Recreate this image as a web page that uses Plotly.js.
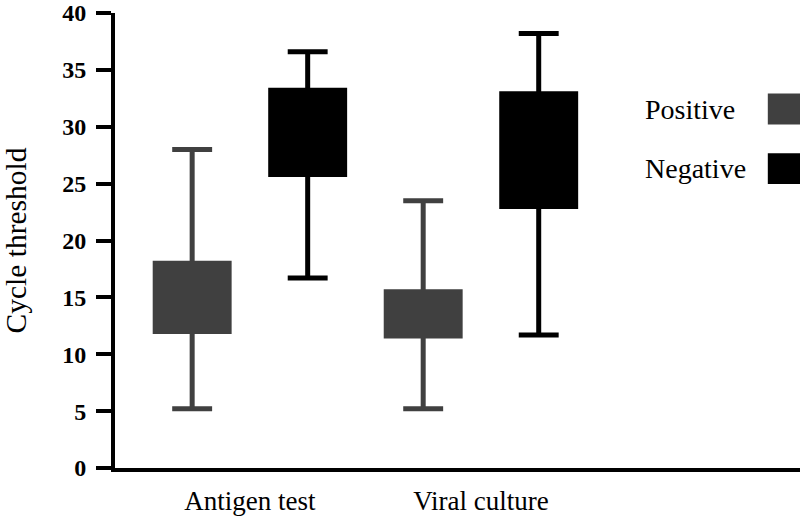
<!DOCTYPE html>
<html>
<head>
<meta charset="utf-8">
<script src="https://cdn.plot.ly/plotly-3.0.1.min.js"></script>
<style>html,body{margin:0;padding:0;background:#fff;}#chart{width:800px;height:519px;}</style>
</head>
<body>
<div id="chart"></div>
<script>
// ---- data ----
const categories = ["Antigen test", "Viral culture"];
const seriesNames = ["Positive", "Negative"];
const seriesColors = ["#404040", "#000000"];

const posLowerFence = [5.2, 5.2];
const posQ1 = [12.0, 11.6];
const posMedian = [15.0, 13.5];
const posQ3 = [18.0, 15.5];
const posUpperFence = [28.0, 23.5];

const negLowerFence = [16.7, 11.7];
const negQ1 = [25.8, 23.0];
const negMedian = [29.5, 28.0];
const negQ3 = [33.2, 32.9];
const negUpperFence = [36.6, 38.2];

const yTicks = [0, 5, 10, 15, 20, 25, 30, 35, 40];

// ---- traces ----
function boxTrace(name, color, lf, q1, med, q3, uf) {
  return {
    type: "box",
    name: name,
    x: categories,
    lowerfence: lf,
    q1: q1,
    median: med,
    q3: q3,
    upperfence: uf,
    fillcolor: color,
    line: {color: color, width: 5},
    whiskerwidth: 0.54,
    boxpoints: false,
    hoverinfo: "skip"
  };
}

const traces = [
  boxTrace(seriesNames[0], seriesColors[0], posLowerFence, posQ1, posMedian, posQ3, posUpperFence),
  boxTrace(seriesNames[1], seriesColors[1], negLowerFence, negQ1, negMedian, negQ3, negUpperFence)
];

// legend drawn as text + squares (text left, swatch right)
const legendY = [0.789, 0.658];
const annotations = seriesNames.map((n, i) => ({
  xref: "paper", yref: "paper",
  x: 0.771, y: legendY[i],
  xanchor: "left", yanchor: "middle",
  text: n, showarrow: false,
  font: {family: "Liberation Serif", size: 28, color: "#000"}
}));
const shapes = seriesColors.map((c, i) => ({
  type: "rect", xref: "paper", yref: "paper",
  x0: 0.953, x1: 1.0,
  y0: legendY[i] - 0.034, y1: legendY[i] + 0.034,
  fillcolor: c, line: {width: 0}
}));

const layout = {
  width: 800, height: 519,
  margin: {l: 115, r: 0, t: 13, b: 51},
  paper_bgcolor: "#fff", plot_bgcolor: "#fff",
  showlegend: false,
  hovermode: false,
  boxmode: "group",
  boxgap: 0,
  boxgroupgap: 0.36,
  xaxis: {
    range: [-0.584, 2.381],
    showline: true, linewidth: 4, linecolor: "#000",
    ticks: "", showgrid: false, zeroline: false,
    tickfont: {family: "Liberation Serif", size: 27, color: "#000"},
    ticklabelstandoff: 6
  },
  yaxis: {
    range: [0, 40],
    tickvals: yTicks,
    ticktext: yTicks.map(v => "<b>" + v + "</b>"),
    ticklabeloverflow: "allow",
    showline: true, linewidth: 4, linecolor: "#000",
    ticks: "outside", ticklen: 15, tickwidth: 4, tickcolor: "#000",
    showgrid: false, zeroline: false,
    tickfont: {family: "Liberation Serif", size: 24, color: "#000", weight: "bold"},
    ticklabelstandoff: 5,
    title: {text: "Cycle threshold", font: {family: "Liberation Serif", size: 29.5, color: "#000"}, standoff: 40}
  },
  annotations: annotations,
  shapes: shapes
};

Plotly.newPlot("chart", traces, layout, {displayModeBar: false, staticPlot: true});
</script>
</body>
</html>
